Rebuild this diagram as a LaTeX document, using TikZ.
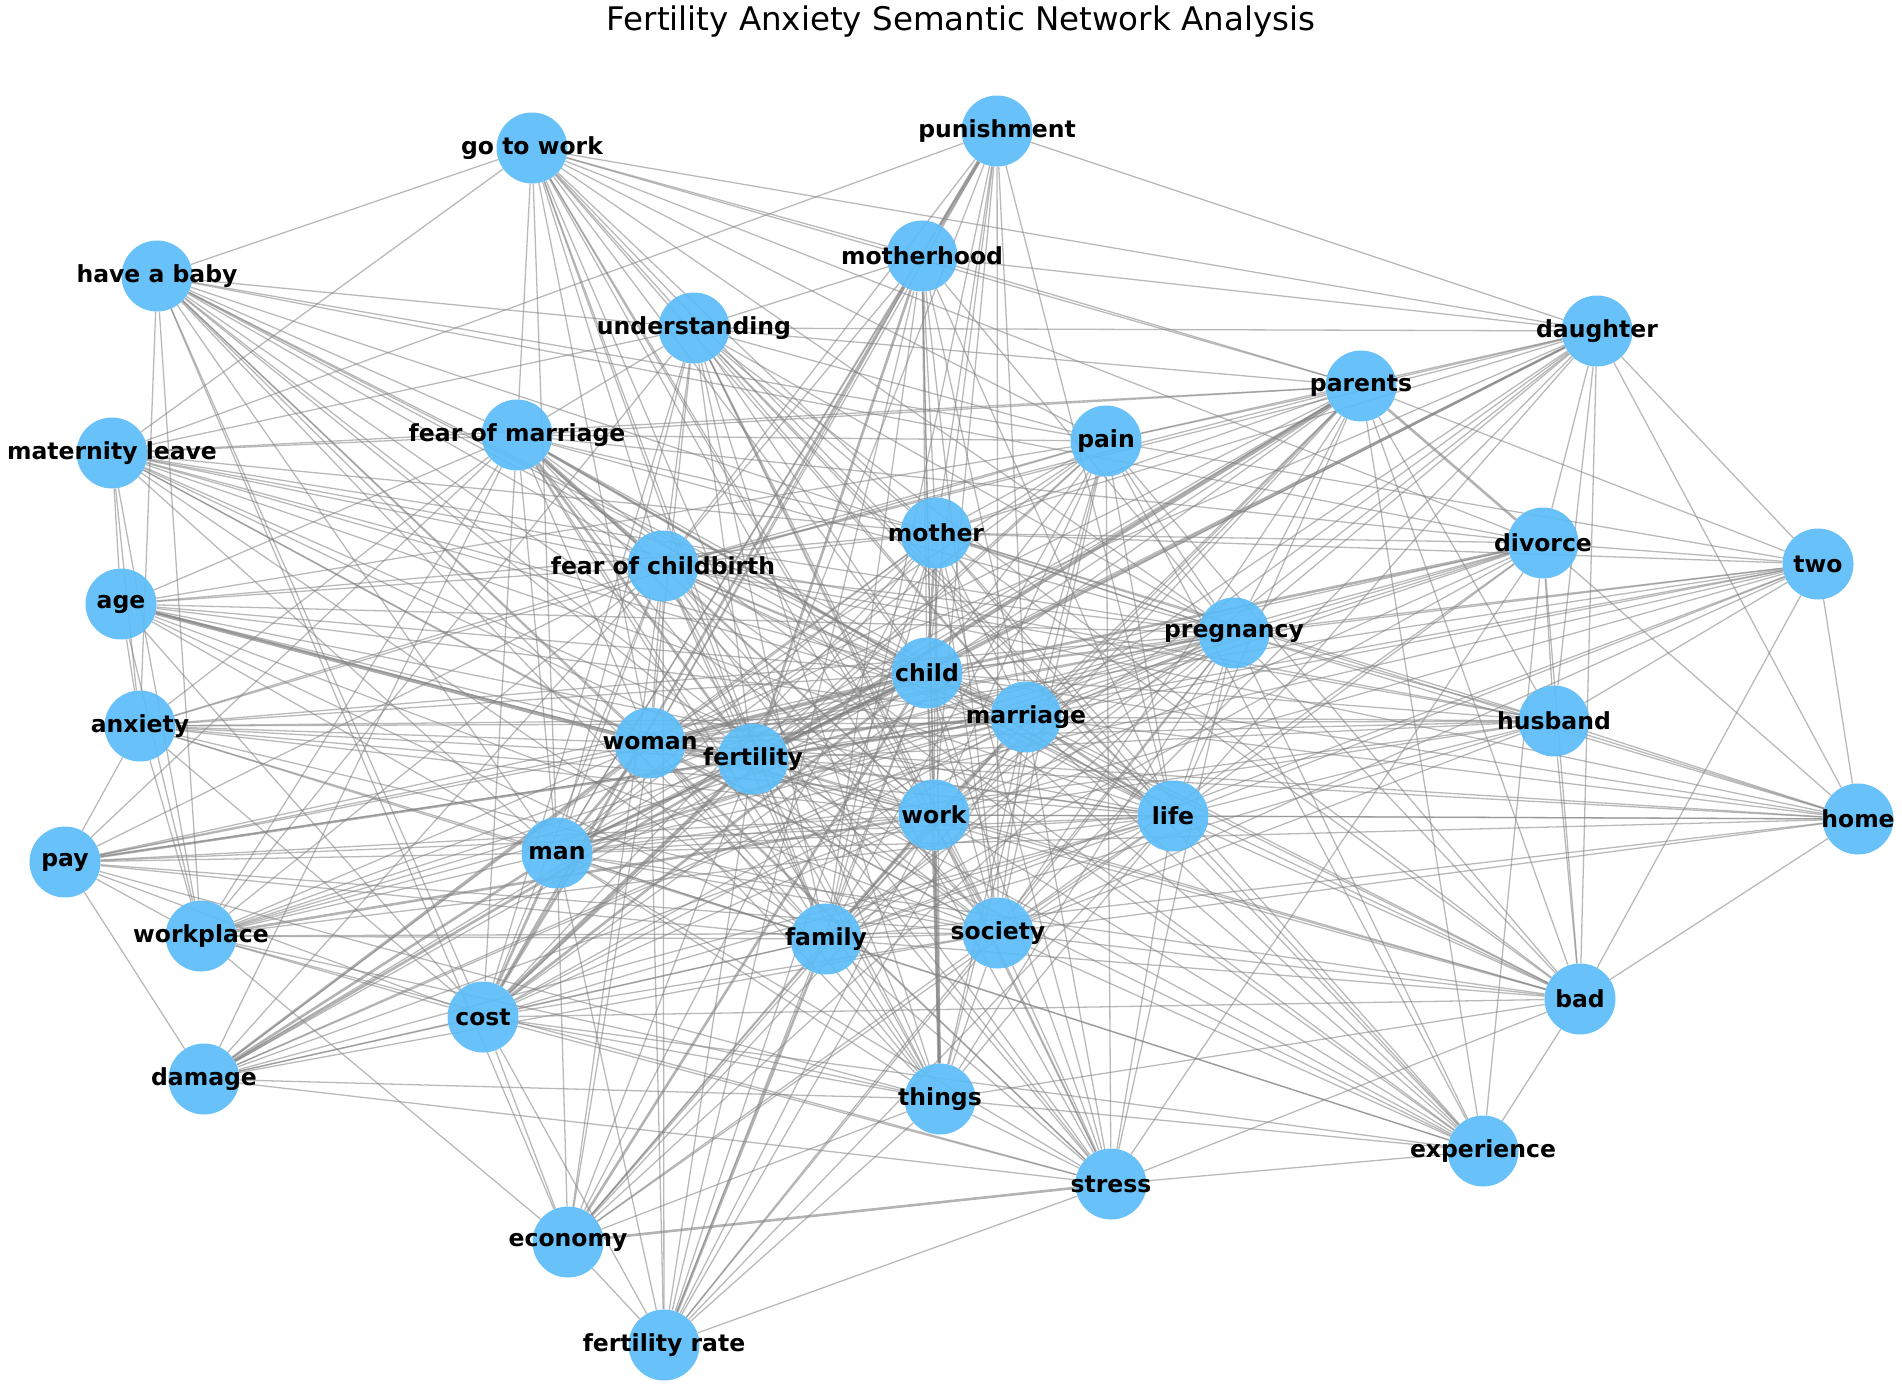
\documentclass[tikz,border=0pt]{standalone}
\usepackage{fontspec}
\setmainfont{DejaVu Sans}
\usetikzlibrary{backgrounds}
\definecolor{nodeblue}{RGB}{91,188,247}
\tikzset{
  kw/.style={circle, minimum size=71pt, inner sep=0pt, fill=nodeblue, fill opacity=0.92},
  lbl/.style={inner sep=0pt, font=\fontsize{23.5}{28}\selectfont\bfseries, text=black},
  edgeA/.style={draw=black!50, draw opacity=0.55, line width=1.3pt},
  edgeB/.style={draw=black!50, draw opacity=0.6, line width=2.6pt},
  edgeC/.style={draw=black!50, draw opacity=0.65, line width=3.8pt}
}
\begin{document}
\begin{tikzpicture}[x=1pt,y=-1pt]
\useasboundingbox (0,0) rectangle (1902,1389);
\node[font=\fontsize{32.5}{38}\selectfont] (title) at (961,22) {Fertility Anxiety Semantic Network Analysis};
\foreach \n/\x/\y in {gtw/532/148, pun/997/131, mh/922/256, hab/157/276, und/694/328, dau/1597/331,
  par/1361/386, ml/112/453, fom/517/435, pain/1106/441, mot/936/533, div/1543/543, two/1818/564,
  foc/663/566, age/121/604, preg/1234/633, chi/927/673, anx/140/726, wom/650/743, fer/753/759,
  mar/1026/717, hus/1554/721, wrk/934/815, life/1173/816, home/1858/819, pay/65/862, man/557/853,
  wp/201/936, fam/826/939, soc/998/933, cost/483/1017, bad/1580/999, dmg/204/1079, thg/940/1099,
  exp/1483/1151, str/1111/1184, eco/568/1242, fr/664/1345}
  {\node[kw] (\n) at (\x,\y) {};}
\foreach \n/\t in {gtw/go to work, pun/punishment, mh/motherhood, hab/have a baby, und/understanding,
  dau/daughter, par/parents, ml/maternity leave, fom/fear of marriage, pain/pain, mot/mother,
  div/divorce, two/two, foc/fear of childbirth, age/age, preg/pregnancy, chi/child, anx/anxiety,
  wom/woman, fer/fertility, mar/marriage, hus/husband, wrk/work, life/life, home/home, pay/pay,
  man/man, wp/workplace, fam/family, soc/society, cost/cost, bad/bad, dmg/damage, thg/things,
  exp/experience, str/stress, eco/economy, fr/fertility rate}
  {\node[lbl] (\n-l) at (\n) {\t};}
\begin{pgfonlayer}{background}
\foreach \a/\bs in {
 gtw/{mh,hab,und,dau,par,ml,fom,pain,mot,div,foc,preg,chi,wom,fer,mar,wrk,life,man,fam,soc,thg,str},
 pun/{dau,ml,mot,foc,chi,wom,fer,mar,wrk,life,man,fam,soc},
 mh/{und,dau,par,mot,foc,preg,chi,wom,mar,wrk,life,man,fam,soc,thg,fr},
 hab/{und,fom,pain,div,foc,preg,chi,anx,wom,fer,mar,wrk,life,man,wp,fam,soc,cost,thg,str,eco},
 und/{dau,par,ml,fom,pain,mot,foc,preg,chi,wom,fer,mar,wrk,life,man,wp,fam,soc,cost,bad,thg,exp,str},
 dau/{par,pain,mot,div,two,foc,preg,chi,wom,mar,hus,wrk,life,home,man,fam,soc,bad},
 par/{ml,fom,pain,mot,two,foc,preg,chi,wom,mar,hus,wrk,life,man,fam,soc,cost,bad,dmg,exp,eco},
 ml/{fom,mot,foc,age,preg,chi,anx,wom,fer,mar,hus,wrk,life,man,wp,fam,soc},
 fom/{pain,mot,div,age,preg,anx,wom,mar,wrk,life,pay,man,wp,fam,soc,cost,dmg,thg,exp,str},
 pain/{mot,two,foc,age,preg,chi,anx,wom,fer,mar,wrk,life,man,fam,soc,cost,bad,thg,exp,str},
 mot/{div,two,foc,age,preg,wom,fer,mar,hus,wrk,life,home,man,fam,soc,cost,bad,dmg,thg,exp,str,eco,fr},
 div/{two,preg,wom,fer,mar,hus,wrk,life,home,man,fam,soc,bad,exp,str},
 two/{preg,chi,wom,fer,mar,hus,wrk,life,home,man,fam,soc,bad},
 foc/{age,preg,chi,anx,wom,fer,mar,hus,wrk,life,home,pay,man,wp,fam,soc,cost,bad,dmg,thg,exp,str,eco,fr},
 age/{preg,chi,anx,fer,mar,wrk,life,man,wp,fam,soc,cost},
 preg/{chi,anx,wom,fer,mar,hus,wrk,life,home,pay,man,wp,fam,soc,cost,bad,dmg,thg,exp,str,eco,fr},
 chi/{anx,hus,wrk,life,home,pay,man,wp,fam,soc,bad,dmg,thg,exp,str,fr},
 anx/{wom,fer,mar,hus,wrk,life,pay,man,wp,fam,soc,cost},
 wom/{hus,wrk,life,home,pay,wp,fam,soc,bad,thg,exp,str,eco,fr},
 fer/{hus,wrk,life,home,wp,fam,soc,bad,thg,exp,str,eco,fr},
 mar/{hus,wrk,home,pay,man,wp,fam,soc,cost,bad,dmg,thg,exp,str,eco,fr},
 hus/{wrk,life,home,man,fam,soc,bad},
 wrk/{life,home,pay,man,soc,cost,bad,dmg,exp,str,eco,fr},
 life/{home,pay,man,wp,fam,soc,cost,bad,dmg,thg,exp,str,eco,fr},
 home/{man,fam,soc,bad},
 pay/{man,wp,fam,soc,cost,dmg,thg},
 man/{wp,fam,soc,bad,thg,exp,str,eco,fr},
 wp/{fam,soc,cost,thg,str,eco},
 fam/{soc,cost,bad,dmg,thg,exp,str,eco},
 soc/{cost,bad,dmg,thg,exp,str,eco,fr},
 cost/{bad,dmg,thg,exp,str,eco,fr},
 bad/{thg,exp,str},
 dmg/{thg,str},
 thg/{exp,str,eco,fr},
 exp/{str},
 str/{fr},
 eco/{fr}}
 {\foreach \b in \bs {\draw[edgeA] (\a) -- (\b);}}
\foreach \a/\b in {mh/fer,mh/cost,dau/fer,par/div,fom/chi,fom/fer,mot/chi,div/chi,chi/mar,chi/cost,chi/eco,wom/mar,wom/man,wom/cost,wom/dmg,fer/mar,fer/pay,fer/man,fer/dmg,mar/life,wrk/wp,wrk/fam,man/cost,man/dmg,fam/fr,str/eco}
 {\draw[edgeB] (\a) -- (\b);}
\foreach \a/\b in {pun/mh,fom/foc,par/fer,age/wom,chi/wom,chi/fer,wom/fer,fer/cost,wrk/thg}
 {\draw[edgeC] (\a) -- (\b);}
\end{pgfonlayer}
\end{tikzpicture}
\end{document}
